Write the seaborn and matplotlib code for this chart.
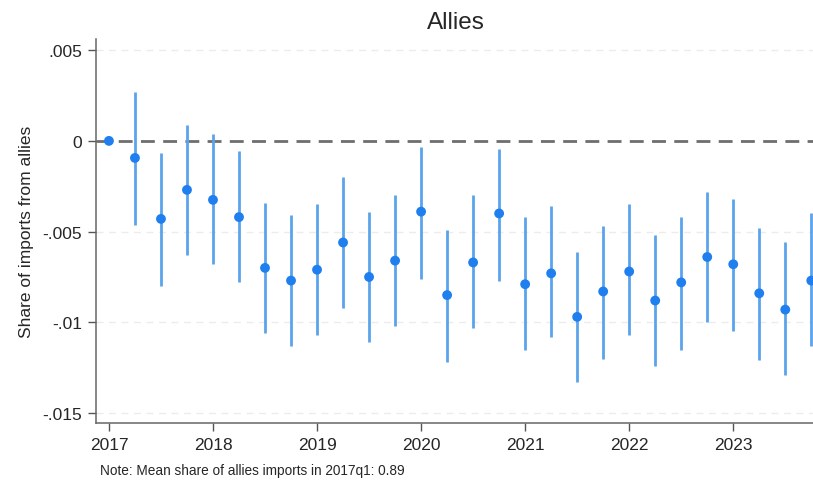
import numpy as np
import pandas as pd
import seaborn as sns
import matplotlib.pyplot as plt
from matplotlib.ticker import FixedLocator

# quarterly event-study estimates, 2017q1 .. 2023q4
years = [2017] * 4 + [2018] * 4 + [2019] * 4 + [2020] * 4 + [2021] * 4 + [2022] * 4 + [2023] * 4
quarters = [1, 2, 3, 4] * 7
coef = [0.0, -0.00094, -0.0043, -0.0027, -0.00325, -0.0042, -0.0070, -0.0077,
        -0.0071, -0.0056, -0.0075, -0.0066, -0.0039, -0.0085, -0.0067, -0.0040,
        -0.0079, -0.0073, -0.0097, -0.0083, -0.0072, -0.0088, -0.0078, -0.0064,
        -0.0068, -0.0084, -0.0093, -0.0077]
ci_hi = [0.0, 0.0027, -0.00066, 0.00088, 0.00039, -0.00055, -0.0034, -0.0041,
         -0.0035, -0.0020, -0.0039, -0.0030, -0.00033, -0.0049, -0.0030, -0.00044,
         -0.0042, -0.0036, -0.0061, -0.0047, -0.0035, -0.0052, -0.0042, -0.0028,
         -0.0032, -0.0048, -0.0056, -0.0040]
ci_lo = [0.0, -0.00463, -0.0080, -0.0063, -0.0068, -0.0078, -0.0106, -0.0113,
         -0.0107, -0.0092, -0.0111, -0.0102, -0.0076, -0.0122, -0.0103, -0.0077,
         -0.0115, -0.0108, -0.0133, -0.0120, -0.0107, -0.0124, -0.0115, -0.0100,
         -0.0105, -0.0121, -0.0129, -0.0113]
year_ticks = [2017, 2018, 2019, 2020, 2021, 2022, 2023]
y_ticks = [0.005, 0, -0.005, -0.01, -0.015]
y_tick_labels = [".005", "0", "-.005", "-.01", "-.015"]

df = pd.DataFrame({"year": years, "q": quarters, "coef": coef, "lo": ci_lo, "hi": ci_hi})
df["t"] = df["year"] + (df["q"] - 1) / 4

sns.set_style("white")
plt.rcParams["font.family"] = ["Liberation Sans", "DejaVu Sans"]

fig = plt.figure(figsize=(8.13, 4.81), dpi=100)
ax = fig.add_axes([0.118, 0.1185, 0.885, 0.7985])

for y in y_ticks:
    if y != 0:
        ax.axhline(y, color="#ececec", lw=1, ls=(0, (5, 4)), zorder=0)
ax.axhline(0, color="#6e6e6e", lw=2, ls=(0, (5, 3)), zorder=1)

ax.vlines(df["t"], df["lo"], df["hi"], color="#5ba3ec", lw=2, zorder=2)
sns.scatterplot(data=df, x="t", y="coef", ax=ax, color="#1f7fef", s=50,
                edgecolor="none", zorder=3)

ax.set_xlim(2016.875, 2023.79)
ax.set_ylim(-0.01555, 0.00562)
ax.set_xticks(year_ticks)
ax.set_xticklabels([str(y) for y in year_ticks])
ax.yaxis.set_major_locator(FixedLocator(y_ticks))
ax.set_yticklabels(y_tick_labels)
ax.tick_params(axis="both", length=6, width=1, color="#555555", labelsize=12.5,
               direction="out", bottom=True, left=True, pad=4)

for s in ["top", "right"]:
    ax.spines[s].set_visible(False)
for s in ["left", "bottom"]:
    ax.spines[s].set_color("#666666")
    ax.spines[s].set_linewidth(1.1)

ax.set_xlabel("")
ax.set_ylabel("Share of imports from allies", fontsize=12.5, labelpad=6)
ax.set_title("Allies", fontsize=17.5, pad=8)
fig.text(0.123, 0.012, "Note: Mean share of allies imports in 2017q1: 0.89", fontsize=9.8)

fig.savefig("out.png", dpi=100)
